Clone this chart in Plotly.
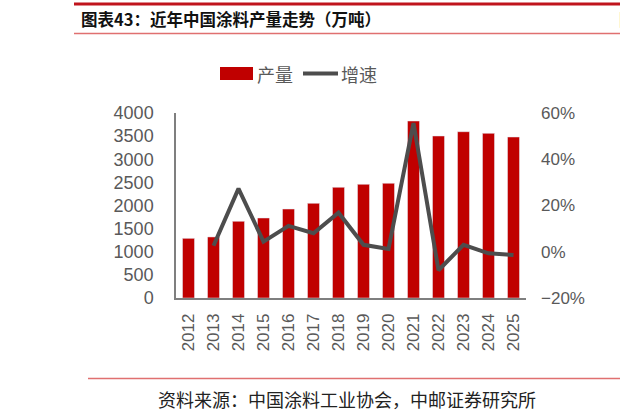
import plotly.graph_objects as go

years = ["2012", "2013", "2014", "2015", "2016", "2017", "2018",
         "2019", "2020", "2021", "2022", "2023", "2024", "2025"]
output = [1290, 1320, 1658, 1730, 1924, 2047, 2393,
          2458, 2480, 3827, 3503, 3596, 3560, 3481]
growth = [None, 0.026, 0.273, 0.044, 0.112, 0.080, 0.169,
          0.030, 0.012, 0.556, -0.080, 0.030, -0.007, -0.014]

left_ticks = [0, 500, 1000, 1500, 2000, 2500, 3000, 3500, 4000]
right_ticks = [-0.2, 0, 0.2, 0.4, 0.6]

RED = "#C00000"
GRAY = "#595959"
LINE = "#4D4D4D"
CJK = "Noto Sans CJK SC"
LAT = "Liberation Sans, Arial, sans-serif"

W, H = 620, 418
L, R, T, B = 176, 526, 113, 298  # plot area in window pixels


def px(x):
    return (x - L) / (R - L)


def py(y):
    return (B - y) / (B - T)


fig = go.Figure()
fig.add_trace(go.Bar(x=years, y=output, name="产量", marker_color=RED,
                     width=0.48, showlegend=False))
fig.add_trace(go.Scatter(x=years, y=growth, name="增速", yaxis="y2",
                         mode="lines", line=dict(color=LINE, width=4),
                         showlegend=False))

shapes = [
    dict(type="rect", xref="paper", yref="paper", x0=px(74), x1=px(625),
         y0=py(5.5), y1=py(2.5), line=dict(width=0), fillcolor="#C0141C",
         layer="above"),
    dict(type="line", xref="paper", yref="paper", x0=px(74), x1=px(625),
         y0=py(33.5), y1=py(33.5), line=dict(color="#E07070", width=1.5)),
    dict(type="line", xref="paper", yref="paper", x0=px(88), x1=px(625),
         y0=py(378.5), y1=py(378.5), line=dict(color="#E07070", width=1.5)),
    # legend keys
    dict(type="rect", xref="paper", yref="paper", x0=px(220), x1=px(253),
         y0=py(80), y1=py(67), line=dict(width=0), fillcolor=RED),
    dict(type="line", xref="paper", yref="paper", x0=px(303), x1=px(338),
         y0=py(73.5), y1=py(73.5), line=dict(color=LINE, width=4)),
]

annotations = [
    dict(text="<b>图表43：近年中国涂料产量走势（万吨）</b>", xref="paper", yref="paper",
         x=px(79), y=py(19), xanchor="left", yanchor="middle", showarrow=False,
         font=dict(family=CJK, size=16.5, color="#111111")),
    dict(text="<b>图</b>", xref="paper", yref="paper",
         x=px(617), y=py(19), xanchor="left", yanchor="middle", showarrow=False,
         font=dict(family=CJK, size=16.5, color="#111111")),
    dict(text="产量", xref="paper", yref="paper", x=px(255), y=py(74),
         xanchor="left", yanchor="middle", showarrow=False,
         font=dict(family=CJK, size=18, color=GRAY)),
    dict(text="增速", xref="paper", yref="paper", x=px(339), y=py(74),
         xanchor="left", yanchor="middle", showarrow=False,
         font=dict(family=CJK, size=18, color=GRAY)),
    dict(text="资料来源：中国涂料工业协会，中邮证券研究所", xref="paper", yref="paper",
         x=px(347), y=py(399), xanchor="center", yanchor="middle", showarrow=False,
         font=dict(family=CJK, size=18, color="#222222")),
]

fig.update_layout(
    width=W, height=H,
    margin=dict(l=L, r=W - R, t=T, b=H - B, pad=0),
    paper_bgcolor="white", plot_bgcolor="white",
    shapes=shapes, annotations=annotations,
    xaxis=dict(type="category", tickangle=-90, showgrid=False,
               showline=True, linecolor="#7F7F7F", linewidth=1.5,
               ticks="", ticklabelstandoff=7,
               tickfont=dict(family=LAT, size=17, color=GRAY)),
    yaxis=dict(range=[0, 4000], tickvals=left_ticks, showgrid=False,
               showline=True, linecolor="#7F7F7F", linewidth=1.5,
               ticks="", zeroline=False, ticklabelstandoff=17,
               tickfont=dict(family=LAT, size=18, color=GRAY)),
    yaxis2=dict(range=[-0.2, 0.6], tickvals=right_ticks, overlaying="y",
                side="right", tickformat=".0%", showgrid=False, showline=False,
                ticks="", zeroline=False, ticklabelstandoff=14,
                tickfont=dict(family=LAT, size=17, color=GRAY)),
)

fig.write_html(
    "out.html",
    config={"displayModeBar": False},
    include_plotlyjs=True,
    full_html=True,
    default_width="620px",
    default_height="418px",
    post_script=(
        "document.documentElement.style.margin='0';"
        "document.documentElement.style.padding='0';"
        "document.body.style.margin='0';"
        "document.body.style.padding='0';"
        "document.body.style.overflow='hidden';"
        "window.scrollTo(0,0);"
    ),
)
